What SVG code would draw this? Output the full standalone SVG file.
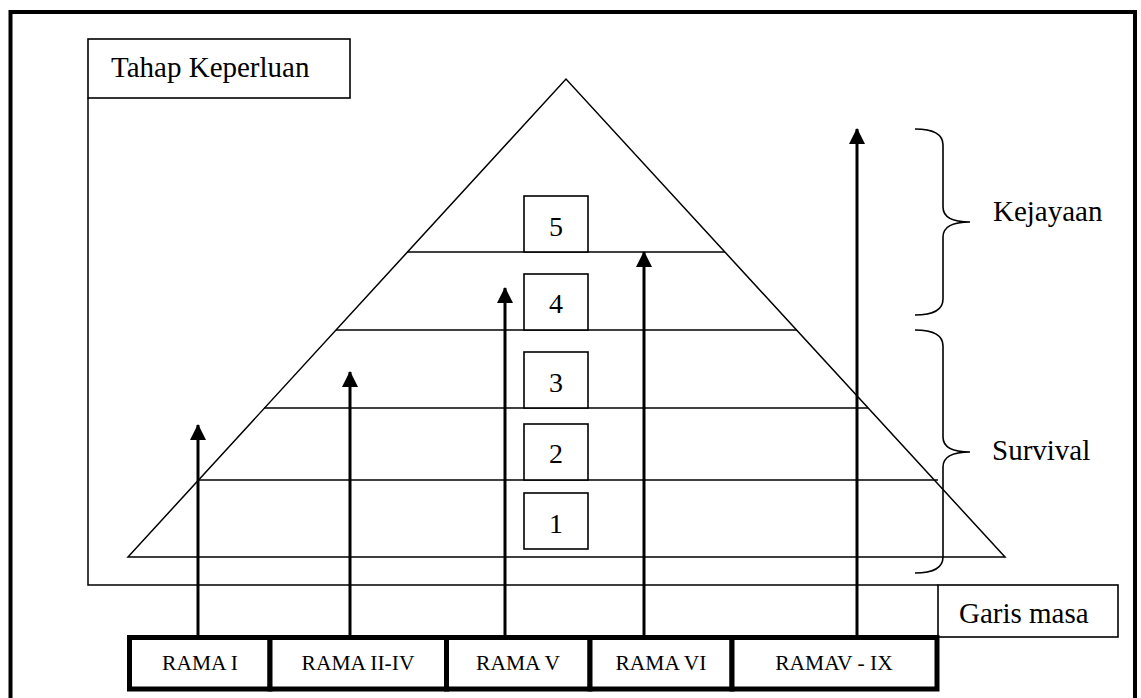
<svg xmlns="http://www.w3.org/2000/svg" width="1141" height="698" viewBox="0 0 1141 698">
  <style>
    text { font-family: "Liberation Serif", "Times New Roman", serif; fill: #000; }
    .lbl { font-size: 29px; }
    .num { font-size: 28px; text-anchor: middle; }
    .rama { font-size: 21.5px; text-anchor: middle; }
    .thin { fill: none; stroke: #000; stroke-width: 1.5; }
    .box { fill: #fff; stroke: #000; stroke-width: 1.6; }
    .cell { fill: #fff; stroke: #000; stroke-width: 5; }
    .arrow { fill: none; stroke: #000; stroke-width: 3; marker-end: url(#head); }
    .brace { fill: none; stroke: #000; stroke-width: 1.6; }
  </style>
  <defs>
    <marker id="head" viewBox="0 0 16 16" refX="15" refY="8" markerWidth="16" markerHeight="16" markerUnits="userSpaceOnUse" orient="auto">
      <path d="M0,0 L16,8 L0,16 Z" fill="#000"/>
    </marker>
  </defs>

  <rect width="1141" height="698" fill="#fff"/>

  <!-- outer frame -->
  <rect x="10.5" y="12" width="1124.5" height="700" fill="none" stroke="#000" stroke-width="4"/>

  <!-- axes: level (vertical) and timeline (horizontal) -->
  <g id="axes">
    <path class="thin" d="M88,98 V585 H938"/>
  </g>

  <g id="tahap-keperluan">
    <rect class="box" x="88" y="39" width="262" height="59"/>
    <text class="lbl" x="111" y="77">Tahap Keperluan</text>
  </g>

  <g id="garis-masa">
    <rect class="box" x="938" y="585" width="180" height="52"/>
    <text class="lbl" x="959" y="623">Garis masa</text>
  </g>

  <!-- pyramid with level bands -->
  <g id="pyramid">
    <path class="thin" d="M128,557 L566,79 L1005,557 Z"/>
    <line class="thin" x1="198" y1="480" x2="938" y2="480"/>
    <line class="thin" x1="264" y1="408" x2="868" y2="408"/>
    <line class="thin" x1="336" y1="330" x2="797" y2="330"/>
    <line class="thin" x1="407" y1="252" x2="725" y2="252"/>
  </g>

  <g id="level-1">
    <rect class="box" x="524" y="493" width="64" height="56" stroke-width="2"/>
    <text class="num" x="556" y="533">1</text>
  </g>
  <g id="level-2">
    <rect class="box" x="524" y="424" width="64" height="56"/>
    <text class="num" x="556" y="463">2</text>
  </g>
  <g id="level-3">
    <rect class="box" x="524" y="352" width="64" height="56"/>
    <text class="num" x="556" y="392">3</text>
  </g>
  <g id="level-4">
    <rect class="box" x="524" y="274" width="64" height="56"/>
    <text class="num" x="556" y="313">4</text>
  </g>
  <g id="level-5">
    <rect class="box" x="524" y="196" width="64" height="56"/>
    <text class="num" x="556" y="236">5</text>
  </g>

  <!-- reign arrows -->
  <g id="connectors">
    <line class="arrow" x1="198" y1="635" x2="198" y2="425"/>
    <line class="arrow" x1="350" y1="635" x2="350" y2="372"/>
    <line class="arrow" x1="505" y1="635" x2="505" y2="288"/>
    <line class="arrow" x1="644" y1="635" x2="644" y2="252"/>
    <line class="arrow" x1="857" y1="635" x2="857" y2="129"/>
  </g>

  <!-- reign timeline cells -->
  <g id="rama-i">
    <rect class="cell" x="129.5" y="637.5" width="140.5" height="51.5"/>
    <text class="rama" x="200" y="670">RAMA I</text>
  </g>
  <g id="rama-ii-iv">
    <rect class="cell" x="270" y="637.5" width="176.5" height="51.5"/>
    <text class="rama" x="358" y="670">RAMA II-IV</text>
  </g>
  <g id="rama-v">
    <rect class="cell" x="446.5" y="637.5" width="143.5" height="51.5"/>
    <text class="rama" x="518" y="670">RAMA V</text>
  </g>
  <g id="rama-vi">
    <rect class="cell" x="590" y="637.5" width="142" height="51.5"/>
    <text class="rama" x="661" y="670">RAMA VI</text>
  </g>
  <g id="rama-v-ix">
    <rect class="cell" x="732" y="637.5" width="205" height="51.5"/>
    <text class="rama" x="834" y="670">RAMAV - IX</text>
  </g>

  <!-- braces -->
  <g id="kejayaan">
    <path class="brace" d="M915,129 Q943,129 943,145 V207 Q943,222 970,222 Q943,222 943,237 V299 Q943,315 915,315"/>
    <text class="lbl" x="993" y="221">Kejayaan</text>
  </g>
  <g id="survival">
    <path class="brace" d="M915,330 Q943,330 943,346 V437 Q943,452 970,452 Q943,452 943,467 V557 Q943,573 915,573"/>
    <text class="lbl" x="992" y="460">Survival</text>
  </g>
</svg>
